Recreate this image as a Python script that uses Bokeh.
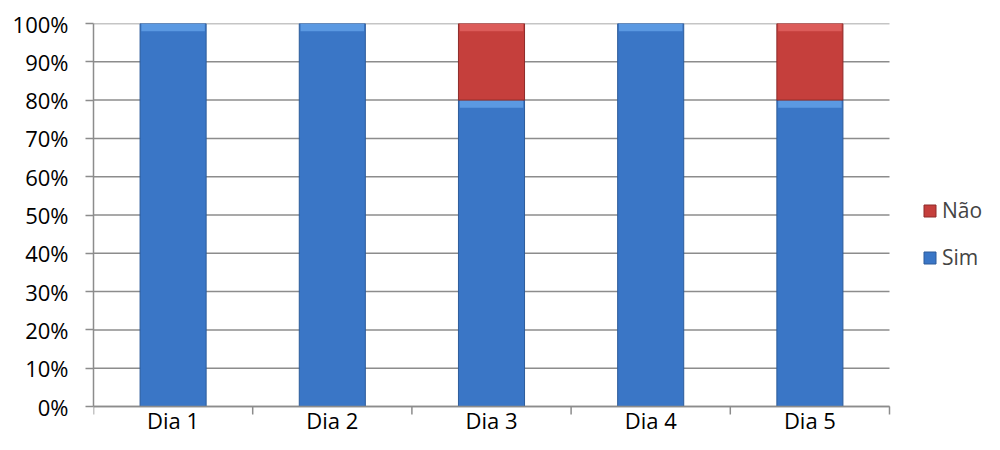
from bokeh.plotting import figure
from bokeh.models import Range1d, FixedTicker, NumeralTickFormatter, Legend, LegendItem, ColumnDataSource
from bokeh.core.properties import value
from bokeh.embed import file_html
from bokeh.resources import INLINE

# ---- data ----
categories = ["Dia 1", "Dia 2", "Dia 3", "Dia 4", "Dia 5"]
sim = [1.0, 1.0, 0.8, 1.0, 0.8]
nao = [0.0, 0.0, 0.2, 0.0, 0.2]
y_ticks = [0.0, 0.1, 0.2, 0.3, 0.4, 0.5, 0.6, 0.7, 0.8, 0.9, 1.0]

FONT = "Open Sans"
GRID = "#8c8c8c"
BLUE, BLUE_TOP, BLUE_EDGE = "#3a76c6", "#6aa8ee", "#2c5b9a"
RED, RED_TOP, RED_EDGE = "#c53f3c", "#e56a66", "#8e2a28"

n = len(categories)
xs = [i + 0.5 for i in range(n)]
bounds_x = list(range(n + 1))
bar_w = 0.415
bevel = 0.02

# ---- layout (pixels) ----
W, H = 984, 434
FL, FR, FT, FB = 93, 889, 23, 406       # plot area of the chart
PXY = (FB - FT)                           # pixels per 100%
y_start = -(H - FB) / PXY
x_end = n * (W - FL) / (FR - FL)
px = 1.0 / PXY                            # one pixel in y data units

sim_src = ColumnDataSource(dict(x=xs, top=sim, bottom=[0] * n,
                                btop=sim, bbot=[s - bevel for s in sim]))
nx, nb, nt = [], [], []
for xi, s, v in zip(xs, sim, nao):
    if v > 0:
        nx.append(xi); nb.append(s); nt.append(s + v)
nao_src = ColumnDataSource(dict(x=nx, top=nt, bottom=nb,
                                btop=nt, bbot=[t - bevel for t in nt]))

p = figure(width=W, height=H, output_backend="svg", toolbar_location=None,
           x_range=Range1d(0, x_end), y_range=Range1d(y_start, 1),
           x_axis_location=None,
           min_border_left=FL, min_border_right=0, min_border_top=FT,
           min_border_bottom=0)
p.outline_line_color = None
p.background_fill_color = "white"
p.border_fill_color = "white"
p.xgrid.grid_line_color = None
p.ygrid.grid_line_color = None

# horizontal grid lines (from tick values)
p.segment(x0=[0] * len(y_ticks), x1=[n] * len(y_ticks), y0=y_ticks, y1=y_ticks,
          line_color=GRID, line_width=1.5)

# bars
r_sim = p.vbar(x="x", top="top", bottom="bottom", width=bar_w, source=sim_src,
               fill_color=BLUE, line_color=BLUE_EDGE, line_width=1)
p.vbar(x="x", top="btop", bottom="bbot", width=bar_w * 0.96, source=sim_src,
       fill_color=BLUE_TOP, fill_alpha=0.7, line_color=None)
r_nao = p.vbar(x="x", top="top", bottom="bottom", width=bar_w, source=nao_src,
               fill_color=RED, line_color=RED_EDGE, line_width=1)
p.vbar(x="x", top="btop", bottom="bbot", width=bar_w * 0.96, source=nao_src,
       fill_color=RED_TOP, fill_alpha=0.7, line_color=None)

# category axis: line, boundary ticks, labels
p.segment(x0=[0], x1=[n], y0=[0], y1=[0], line_color=GRID, line_width=1.5)
p.segment(x0=bounds_x, x1=bounds_x, y0=[0] * len(bounds_x),
          y1=[-8 * px] * len(bounds_x), line_color=GRID, line_width=1.5)
p.text(x=xs, y=[-13 * px] * n, text=categories, text_align="center",
       text_baseline="middle", text_font=value(FONT),
       text_font_size="22px", text_color="#000000")

# value axis
p.yaxis.bounds = (0, 1)
p.yaxis.ticker = FixedTicker(ticks=y_ticks)
p.yaxis.formatter = NumeralTickFormatter(format="0%")
p.yaxis.axis_line_color = GRID
p.yaxis.axis_line_width = 1.5
p.yaxis.major_tick_line_color = GRID
p.yaxis.major_tick_line_width = 1.5
p.yaxis.major_tick_out = 8
p.yaxis.major_tick_in = 0
p.yaxis.minor_tick_line_color = None
p.yaxis.major_label_standoff = 17
p.yaxis.major_label_text_font = FONT
p.yaxis.major_label_text_font_size = "22px"
p.yaxis.major_label_text_color = "#000000"

legend = Legend(items=[LegendItem(label="Não", renderers=[r_nao]),
                       LegendItem(label="Sim", renderers=[r_sim])],
                location=(829, H - 271), glyph_width=15, glyph_height=15,
                label_text_font=FONT, label_text_font_size="21px",
                label_standoff=5, spacing=19, padding=0, margin=0,
                border_line_color=None, background_fill_alpha=0)
p.add_layout(legend, "center")

open("out.html", "w").write(file_html(p, INLINE))
